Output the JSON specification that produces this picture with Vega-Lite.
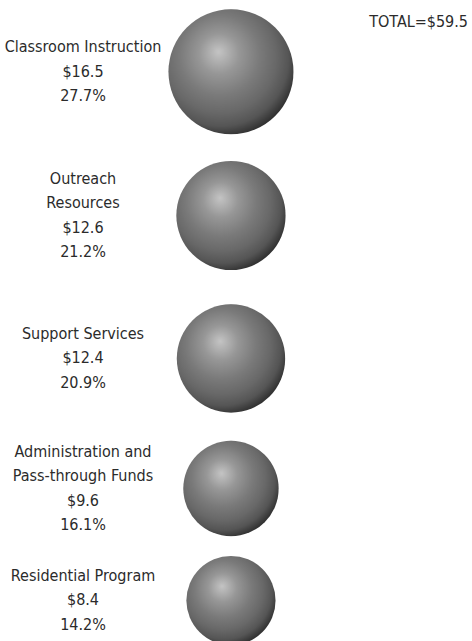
{
  "$schema": "https://vega.github.io/schema/vega-lite/v6.json",
  "autosize": {"type": "pad"},
  "padding": {"left": 0, "top": 0, "right": 4, "bottom": 0},
  "background": "white",
  "bounds": "flush",
  "spacing": 0,
  "datasets": {
    "spending": [
      {"name": "Classroom Instruction", "value": 16.5, "pct": 27.7, "nameLines": 1},
      {"name": "Outreach\nResources", "value": 12.6, "pct": 21.2, "nameLines": 2},
      {"name": "Support Services", "value": 12.4, "pct": 20.9, "nameLines": 1},
      {"name": "Administration and\nPass-through Funds", "value": 9.6, "pct": 16.1, "nameLines": 2},
      {"name": "Residential Program", "value": 8.4, "pct": 14.2, "nameLines": 1}
    ],
    "total": [{"total": 59.5}]
  },
  "data": {"name": "spending"},
  "transform": [
    {"calculate": "datum.name + '\\n$' + format(datum.value, '.1f') + '\\n' + format(datum.pct, '.1f') + '%'", "as": "label"}
  ],
  "vconcat": [
    {
      "width": 468, "height": 143.5,
      "layer": [
        {
          "transform": [{"filter": "datum.name == 'Classroom Instruction'"}],
          "mark": {"type": "circle", "opacity": 1, "strokeWidth": 0,
            "fill": {"gradient": "radial", "x1": 0.4, "y1": 0.34, "r1": 0, "x2": 0.42, "y2": 0.4, "r2": 0.64,
              "stops": [{"offset": 0, "color": "#c4c4c4"}, {"offset": 0.25, "color": "#979797"}, {"offset": 0.5, "color": "#7a7a7a"}, {"offset": 0.7, "color": "#686868"}, {"offset": 0.85, "color": "#555555"}, {"offset": 1, "color": "#2a2a2a"}]}},
          "encoding": {
            "x": {"datum": 1, "type": "quantitative", "scale": {"domain": [-0.5608, 2.6014], "nice": false, "zero": false}, "axis": null},
            "size": {"field": "value", "type": "quantitative", "scale": {"domain": [0, 16.5], "range": [0, 15625]}, "legend": null}
          }
        },
        {
          "transform": [{"filter": "datum.name == 'Classroom Instruction'"}],
          "mark": {"type": "text", "align": "center", "baseline": "middle", "lineBreak": "\n", "lineHeight": 24.6, "dy": -24.6, "font": "DejaVu Sans Condensed", "fontSize": 16, "color": "#2b2b2b"},
          "encoding": {
            "x": {"datum": 0, "type": "quantitative"},
            "text": {"field": "label", "type": "nominal"}
          }
        },
        {
          "data": {"name": "total"},
          "transform": [{"calculate": "'TOTAL=$' + format(datum.total, '.1f')", "as": "totalLabel"}],
          "mark": {"type": "text", "align": "right", "baseline": "alphabetic", "dy": -44.75, "font": "DejaVu Sans Condensed", "fontSize": 16, "color": "#2b2b2b"},
          "encoding": {
            "x": {"datum": 2.6014, "type": "quantitative"},
            "text": {"field": "totalLabel", "type": "nominal"}
          }
        }
      ]
    },
    {
      "width": 468, "height": 143,
      "layer": [
        {
          "transform": [{"filter": "datum.name == 'Outreach\\nResources'"}],
          "mark": {"type": "circle", "opacity": 1, "strokeWidth": 0,
            "fill": {"gradient": "radial", "x1": 0.4, "y1": 0.34, "r1": 0, "x2": 0.42, "y2": 0.4, "r2": 0.64,
              "stops": [{"offset": 0, "color": "#c4c4c4"}, {"offset": 0.25, "color": "#979797"}, {"offset": 0.5, "color": "#7a7a7a"}, {"offset": 0.7, "color": "#686868"}, {"offset": 0.85, "color": "#555555"}, {"offset": 1, "color": "#2a2a2a"}]}},
          "encoding": {
            "x": {"datum": 1, "type": "quantitative", "scale": {"domain": [-0.5608, 2.6014], "nice": false, "zero": false}, "axis": null},
            "size": {"field": "value", "type": "quantitative", "scale": {"domain": [0, 16.5], "range": [0, 15625]}, "legend": null}
          }
        },
        {
          "transform": [{"filter": "datum.name == 'Outreach\\nResources'"}],
          "mark": {"type": "text", "align": "center", "baseline": "middle", "lineBreak": "\n", "lineHeight": 24.6, "dy": -36.9, "font": "DejaVu Sans Condensed", "fontSize": 16, "color": "#2b2b2b"},
          "encoding": {
            "x": {"datum": 0, "type": "quantitative"},
            "text": {"field": "label", "type": "nominal"}
          }
        }
      ]
    },
    {
      "width": 468, "height": 143,
      "layer": [
        {
          "transform": [{"filter": "datum.name == 'Support Services'"}],
          "mark": {"type": "circle", "opacity": 1, "strokeWidth": 0,
            "fill": {"gradient": "radial", "x1": 0.4, "y1": 0.34, "r1": 0, "x2": 0.42, "y2": 0.4, "r2": 0.64,
              "stops": [{"offset": 0, "color": "#c4c4c4"}, {"offset": 0.25, "color": "#979797"}, {"offset": 0.5, "color": "#7a7a7a"}, {"offset": 0.7, "color": "#686868"}, {"offset": 0.85, "color": "#555555"}, {"offset": 1, "color": "#2a2a2a"}]}},
          "encoding": {
            "x": {"datum": 1, "type": "quantitative", "scale": {"domain": [-0.5608, 2.6014], "nice": false, "zero": false}, "axis": null},
            "size": {"field": "value", "type": "quantitative", "scale": {"domain": [0, 16.5], "range": [0, 15625]}, "legend": null}
          }
        },
        {
          "transform": [{"filter": "datum.name == 'Support Services'"}],
          "mark": {"type": "text", "align": "center", "baseline": "middle", "lineBreak": "\n", "lineHeight": 24.6, "dy": -24.6, "font": "DejaVu Sans Condensed", "fontSize": 16, "color": "#2b2b2b"},
          "encoding": {
            "x": {"datum": 0, "type": "quantitative"},
            "text": {"field": "label", "type": "nominal"}
          }
        }
      ]
    },
    {
      "width": 468, "height": 117,
      "layer": [
        {
          "transform": [{"filter": "datum.name == 'Administration and\\nPass-through Funds'"}],
          "mark": {"type": "circle", "opacity": 1, "strokeWidth": 0,
            "fill": {"gradient": "radial", "x1": 0.4, "y1": 0.34, "r1": 0, "x2": 0.42, "y2": 0.4, "r2": 0.64,
              "stops": [{"offset": 0, "color": "#c4c4c4"}, {"offset": 0.25, "color": "#979797"}, {"offset": 0.5, "color": "#7a7a7a"}, {"offset": 0.7, "color": "#686868"}, {"offset": 0.85, "color": "#555555"}, {"offset": 1, "color": "#2a2a2a"}]}},
          "encoding": {
            "x": {"datum": 1, "type": "quantitative", "scale": {"domain": [-0.5608, 2.6014], "nice": false, "zero": false}, "axis": null},
            "size": {"field": "value", "type": "quantitative", "scale": {"domain": [0, 16.5], "range": [0, 15625]}, "legend": null}
          }
        },
        {
          "transform": [{"filter": "datum.name == 'Administration and\\nPass-through Funds'"}],
          "mark": {"type": "text", "align": "center", "baseline": "middle", "lineBreak": "\n", "lineHeight": 24.6, "dy": -36.9, "font": "DejaVu Sans Condensed", "fontSize": 16, "color": "#2b2b2b"},
          "encoding": {
            "x": {"datum": 0, "type": "quantitative"},
            "text": {"field": "label", "type": "nominal"}
          }
        }
      ]
    },
    {
      "width": 468, "height": 107,
      "layer": [
        {
          "transform": [{"filter": "datum.name == 'Residential Program'"}],
          "mark": {"type": "circle", "opacity": 1, "strokeWidth": 0,
            "fill": {"gradient": "radial", "x1": 0.4, "y1": 0.34, "r1": 0, "x2": 0.42, "y2": 0.4, "r2": 0.64,
              "stops": [{"offset": 0, "color": "#c4c4c4"}, {"offset": 0.25, "color": "#979797"}, {"offset": 0.5, "color": "#7a7a7a"}, {"offset": 0.7, "color": "#686868"}, {"offset": 0.85, "color": "#555555"}, {"offset": 1, "color": "#2a2a2a"}]}},
          "encoding": {
            "x": {"datum": 1, "type": "quantitative", "scale": {"domain": [-0.5608, 2.6014], "nice": false, "zero": false}, "axis": null},
            "size": {"field": "value", "type": "quantitative", "scale": {"domain": [0, 16.5], "range": [0, 15625]}, "legend": null}
          }
        },
        {
          "transform": [{"filter": "datum.name == 'Residential Program'"}],
          "mark": {"type": "text", "align": "center", "baseline": "middle", "lineBreak": "\n", "lineHeight": 24.6, "dy": -24.6, "font": "DejaVu Sans Condensed", "fontSize": 16, "color": "#2b2b2b"},
          "encoding": {
            "x": {"datum": 0, "type": "quantitative"},
            "text": {"field": "label", "type": "nominal"}
          }
        }
      ]
    }
  ],
  "config": {
    "view": {"stroke": null}
  }
}
